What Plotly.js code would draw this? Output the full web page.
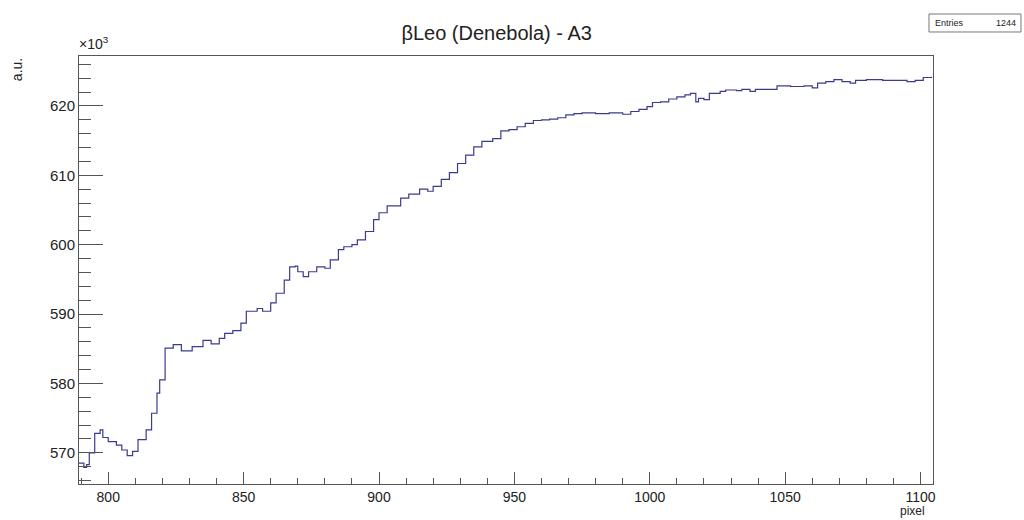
<!DOCTYPE html>
<html>
<head>
<meta charset="utf-8">
<script src="https://cdn.plot.ly/plotly-3.0.1.min.js"></script>
<style>html,body{margin:0;padding:0;background:#fff;}#chart{width:1024px;height:520px;}</style>
</head>
<body>
<div id="chart"></div>
<script>
// pixel bin (low edge) and signal in a.u. (x10^3)
var pixels = [789,791,792,793,795,797,798,800,803,805,
807,809,811,814,816,818,819,821,824,827,
831,835,838,841,843,846,849,851,855,857,
860,862,865,867,869,870,872,874,877,880,
882,885,887,890,892,895,898,900,903,908,
911,915,918,920,923,926,929,932,935,938,
942,945,948,951,954,957,960,963,966,969,
972,975,980,985,990,993,996,999,1001,1004,
1007,1010,1013,1015,1017,1018,1020,1022,1026,1028,
1032,1034,1037,1039,1042,1047,1052,1057,1060,1062,
1065,1068,1071,1074,1076,1080,1086,1091,1095,1098,
1101,1104];
var signal = [568.5,567.9,568.3,570.0,572.8,573.3,572.2,571.6,571.1,570.4,
569.6,570.2,571.9,573.3,575.7,578.6,580.5,585.1,585.6,584.7,
585.3,586.2,585.7,586.5,587.2,587.6,588.7,590.4,590.8,590.4,
591.6,593.0,594.9,596.8,596.9,596.1,595.4,596.1,596.8,596.6,
597.8,599.3,599.7,600.0,600.7,601.9,603.6,604.6,605.6,606.7,
607.3,608.0,607.7,608.4,609.4,610.4,611.7,612.9,614.1,614.9,
615.3,616.4,616.6,617.0,617.5,617.9,618.0,618.1,618.3,618.7,
618.9,619.0,618.9,619.0,618.8,619.2,619.5,619.9,620.5,620.6,
621.0,621.3,621.6,621.8,620.6,621.1,620.9,621.8,622.1,622.3,
622.2,622.4,622.1,622.4,622.4,622.9,622.8,622.9,622.6,623.3,
623.5,623.8,623.5,623.3,623.7,623.8,623.7,623.7,623.5,623.7,
624.1,624.2];
var titleText = "βLeo (Denebola) - A3";
var entriesLabel = "Entries";
var entriesValue = "1244";

var FONT = "Liberation Sans, Arial, Helvetica, sans-serif";
var trace = {
  x: pixels, y: signal, type: "scatter", mode: "lines",
  line: {shape: "hv", color: "#3b3b8e", width: 1.2},
  hoverinfo: "skip"
};
var axisCommon = {
  showgrid: false, zeroline: false, showline: true, mirror: true,
  linecolor: "#555", linewidth: 1, ticks: "inside", tickcolor: "#555"
};
var layout = {
  width: 1024, height: 520,
  margin: {l: 79, r: 91, t: 56, b: 36, pad: 0},
  paper_bgcolor: "#fff", plot_bgcolor: "#fff",
  showlegend: false,
  title: {text: titleText, x: 0.485, xanchor: "center", y: 0.937, yanchor: "middle",
          font: {family: FONT, size: 20, color: "#222"}},
  xaxis: Object.assign({}, axisCommon, {
    range: [789.2, 1104.6], tick0: 800, dtick: 50, ticklen: 12,
    tickfont: {family: FONT, size: 14, color: "#222"},
    minor: {dtick: 10, tick0: 800, ticklen: 6, ticks: "inside", tickcolor: "#555"}
  }),
  yaxis: Object.assign({}, axisCommon, {
    range: [565.5, 627.2], tick0: 570, dtick: 10, ticklen: 24, tickformat: "d",
    tickfont: {family: FONT, size: 15, color: "#222"},
    minor: {dtick: 2, tick0: 570, ticklen: 12, ticks: "inside", tickcolor: "#555"}
  }),
  shapes: [
    {type: "rect", xref: "paper", yref: "paper", x0: 0.9953, x1: 1.1030, y0: 1.0561, y1: 1.0981,
     line: {color: "#777", width: 1}, fillcolor: "rgba(0,0,0,0)"}
  ],
  annotations: [
    {text: entriesLabel, xref: "paper", yref: "paper", x: 1.0005, y: 1.0771, xanchor: "left", yanchor: "middle",
     showarrow: false, font: {family: FONT, size: 9, color: "#222"}},
    {text: entriesValue, xref: "paper", yref: "paper", x: 1.0995, y: 1.0771, xanchor: "right", yanchor: "middle",
     showarrow: false, font: {family: FONT, size: 9, color: "#222"}},
    {text: "×10<sup>3</sup>", xref: "paper", yref: "paper", x: -0.002, y: 1.005, xanchor: "left", yanchor: "bottom",
     showarrow: false, font: {family: FONT, size: 14, color: "#222"}},
    {text: "a.u.", xref: "paper", yref: "paper", x: -0.073, y: 1.0, xanchor: "center", yanchor: "top", textangle: -90,
     showarrow: false, font: {family: FONT, size: 14, color: "#222"}},
    {text: "pixel", xref: "paper", yref: "paper", x: 0.993, y: -0.0841, xanchor: "right", yanchor: "bottom",
     showarrow: false, font: {family: FONT, size: 12, color: "#222"}}
  ]
};
Plotly.newPlot("chart", [trace], layout, {displayModeBar: false, staticPlot: true});
</script>
</body>
</html>
